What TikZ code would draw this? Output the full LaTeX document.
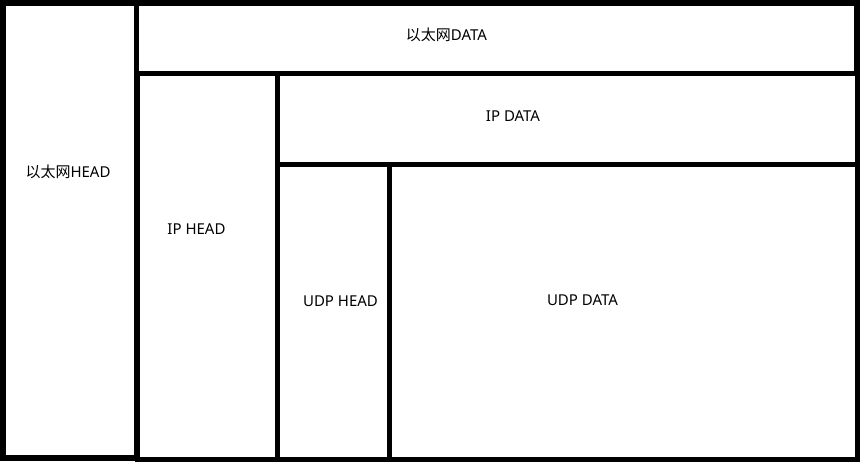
\documentclass[tikz,border=0pt]{standalone}
\usepackage{fontspec}
\setmainfont{Noto Sans}
\newfontfamily\cjk{Noto Sans CJK SC}
\begin{document}
\begin{tikzpicture}[x=1pt,y=-1pt,
  box/.style={draw=black,line width=5.5pt},
  lbl/.style={font=\fontsize{15}{17}\selectfont,inner sep=0pt,anchor=center}]
\useasboundingbox (0,0) rectangle (860,463);
\fill[white] (0,0) rectangle (860,463);
% rectangles
\draw[box] (3,3) rectangle (136.5,458);
\draw[box] (136.5,3) rectangle (857,73.5);
\draw[box] (137.5,73.5) rectangle (277.5,459.5);
\draw[box] (277.5,73.5) rectangle (857.5,164.5);
\draw[box] (277.5,164.5) rectangle (389.5,459.5);
\draw[box] (389.5,164.5) rectangle (857.5,459.5);
% labels
\node[lbl] (ethhead) at (68,172) {{\cjk 以太网}HEAD};
\node[lbl] (ethdata) at (446.5,35) {{\cjk 以太网}DATA};
\node[lbl] (ipdata) at (513,116.5) {IP DATA};
\node[lbl] (iphead) at (196.5,229.5) {IP HEAD};
\node[lbl] (udphead) at (340.5,301.5) {UDP HEAD};
\node[lbl] (udpdata) at (582.5,300.5) {UDP DATA};
\end{tikzpicture}
\end{document}
